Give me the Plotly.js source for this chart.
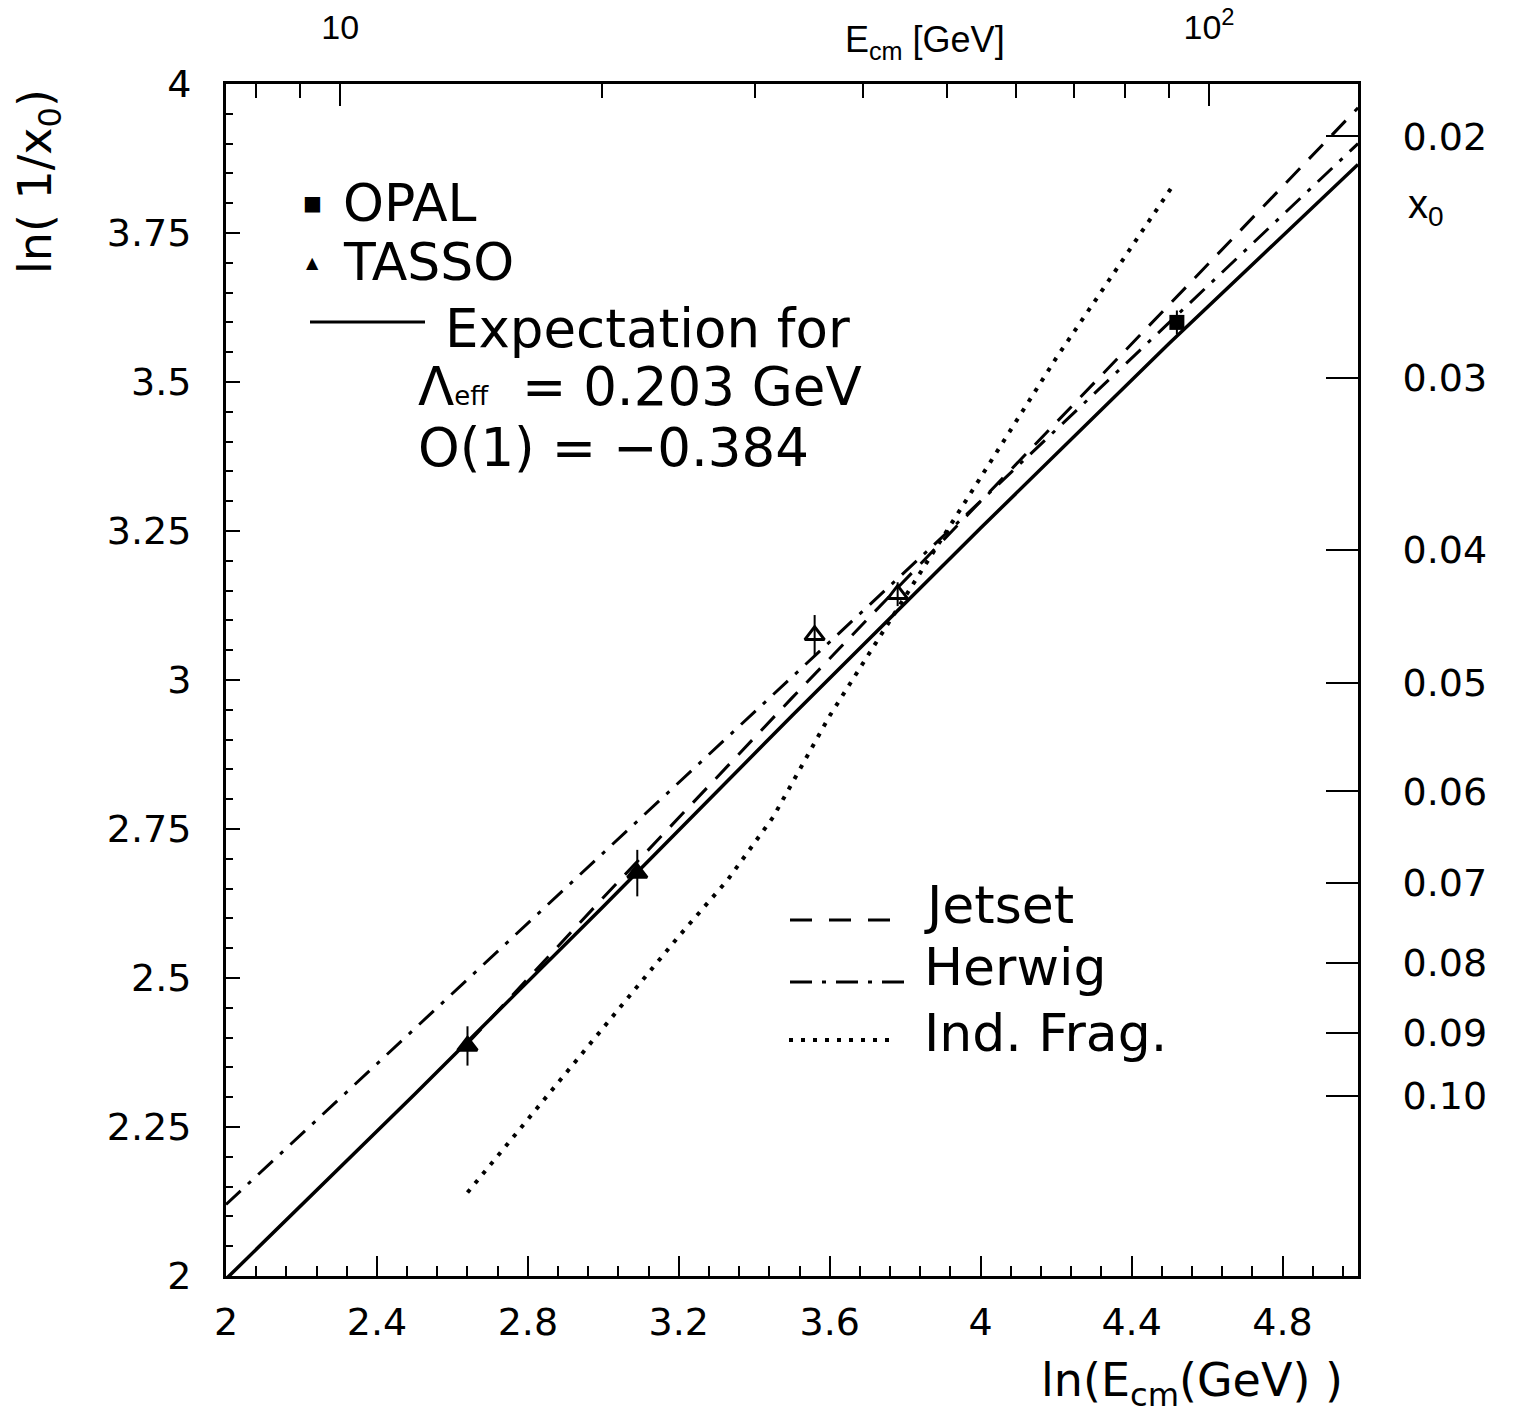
<!DOCTYPE html>
<html>
<head>
<meta charset="utf-8">
<script src="https://cdn.plot.ly/plotly-3.0.1.min.js"></script>
<style>html,body{margin:0;padding:0;background:#fff;}</style>
</head>
<body>
<div id="chart" style="width:1527px;height:1414px;"></div>
<script>
// ---- data ----
// TASSO points: ln(Ecm) and ln(1/x0)
const tassoX = [2.64, 3.09, 3.56, 3.78];
const tassoY = [2.386, 2.676, 3.075, 3.144];
const tassoErr = [0.033, 0.039, 0.034, 0.02];
// OPAL point
const opalX = [4.52];
const opalY = [3.60];
const opalErr = [0.02];
// Expectation (solid)
const expX = [2.0, 2.5, 3.0, 3.5, 4.0, 4.5, 5.0];
const expY = [1.995, 2.305, 2.62, 2.94, 3.255, 3.565, 3.865];
// Jetset (dashed)
const jetX = [2.64, 3.0, 3.5, 4.0, 4.5, 5.0];
const jetY = [2.39, 2.635, 2.97, 3.30, 3.63, 3.96];
// Herwig (dash-dot)
const herX = [2.0, 2.5, 3.0, 3.5, 4.0, 4.5, 5.0];
const herY = [2.12, 2.415, 2.71, 3.005, 3.30, 3.60, 3.90];
// Independent fragmentation (dotted)
const indX = [2.64, 2.85, 3.05, 3.20, 3.33, 3.45, 3.60, 3.76, 3.90, 4.05, 4.20, 4.35, 4.51];
const indY = [2.14, 2.30, 2.455, 2.57, 2.665, 2.77, 2.94, 3.10, 3.24, 3.39, 3.54, 3.68, 3.83];
// top axis (Ecm in GeV)
const topMajorE = [10, 100];
const topMajorText = ['10', '10<sup>2</sup>'];
const topMinorE = [8, 9, 20, 30, 40, 50, 60, 70, 80, 90];
// right axis (x0)
const x0Vals = [0.02, 0.03, 0.04, 0.05, 0.06, 0.07, 0.08, 0.09, 0.10];
const x0Text = ['0.02', '0.03', '0.04', '0.05', '0.06', '0.07', '0.08', '0.09', '0.10'];

// ---- layout geometry ----
const W = 1527, H = 1414;
const L = 226, R = 1358, T = 84, B = 1276;
const px = v => (v - L) / (R - L);
const py = v => (B - v) / (B - T);
const FONT = 'DejaVu Sans, Liberation Sans, sans-serif';

const traces = [
  {x: expX, y: expY, mode: 'lines', line: {color: '#000', width: 3.5}, hoverinfo: 'skip'},
  {x: jetX, y: jetY, mode: 'lines', line: {color: '#000', width: 3, dash: '20px,13px'}, hoverinfo: 'skip'},
  {x: herX, y: herY, mode: 'lines', line: {color: '#000', width: 3, dash: '20px,10px,4px,10px'}, hoverinfo: 'skip'},
  {x: indX, y: indY, mode: 'lines', line: {color: '#000', width: 4, dash: '4px,8px'}, hoverinfo: 'skip'},
  {x: tassoX, y: tassoY, mode: 'markers',
   marker: {symbol: ['triangle-up', 'triangle-up', 'triangle-up-open', 'triangle-up-open'], size: 17, color: '#000', line: {color: '#000', width: 3}},
   error_y: {type: 'data', array: tassoErr, visible: true, thickness: 2, width: 0, color: '#000'}},
  {x: opalX, y: opalY, mode: 'markers',
   marker: {symbol: 'square', size: 15, color: '#000'},
   error_y: {type: 'data', array: opalErr, visible: true, thickness: 2, width: 0, color: '#000'}}
];

const ann = [];
function addText(text, x, y, size, anchor, opts) {
  ann.push(Object.assign({text: text, xref: 'paper', yref: 'paper', x: px(x), y: py(y),
    xanchor: anchor || 'left', yanchor: 'middle', showarrow: false,
    font: {family: FONT, size: size, color: '#000'}}, opts || {}));
}
// upper-left legend
addText('■', 312, 203, 20, 'center');
addText('OPAL', 341, 203, 52);
addText('▲', 312, 262, 16, 'center');
addText('TASSO', 341, 262, 52);
addText('Expectation for', 443, 328, 53);
addText('Λ<span style="font-size:26px">eff</span>  = 0.203 GeV', 416, 387, 53);
addText('O(1) = −0.384', 416, 447, 53);
// lower-right legend
addText('Jetset', 922, 905, 52);
addText('Herwig', 922, 967, 52);
addText('Ind. Frag.', 922, 1033, 52);
// axis titles
addText('ln(E<sub>cm</sub>(GeV) )', 1345, 1383, 46, 'right');
addText('ln( 1/x<sub>0</sub>)', 38, 182, 46, 'center', {textangle: -90});
addText('E<sub>cm</sub> [GeV]', 925, 42, 36, 'center', {font: {family: 'Liberation Sans, sans-serif', size: 36, color: '#000'}});
addText('x<sub>0</sub>', 1426, 207, 40, 'center', {font: {family: 'Liberation Sans, sans-serif', size: 40, color: '#000'}});

const shapes = [
  {type: 'line', xref: 'paper', yref: 'paper', x0: px(310), x1: px(425), y0: py(322), y1: py(322), line: {color: '#000', width: 3}},
  {type: 'line', xref: 'paper', yref: 'paper', x0: px(790), x1: px(892), y0: py(920), y1: py(920), line: {color: '#000', width: 3, dash: '22px,17px'}},
  {type: 'line', xref: 'paper', yref: 'paper', x0: px(790), x1: px(907), y0: py(982), y1: py(982), line: {color: '#000', width: 3, dash: '22px,10px,4px,10px'}},
  {type: 'line', xref: 'paper', yref: 'paper', x0: px(789), x1: px(896), y0: py(1040), y1: py(1040), line: {color: '#000', width: 4, dash: '4px,8px'}}
];

const tickFont = {family: FONT, size: 38, color: '#000'};
const layout = {
  width: W, height: H,
  margin: {l: L, r: W - R, t: T, b: H - B, pad: 0},
  paper_bgcolor: '#fff', plot_bgcolor: '#fff',
  showlegend: false,
  xaxis: {range: [2, 5], showgrid: false, zeroline: false, showline: true, linecolor: '#000', linewidth: 3,
    tickmode: 'linear', tick0: 2, dtick: 0.4, ticks: 'inside', ticklen: 20, tickwidth: 2, tickcolor: '#000',
    minor: {tick0: 2, dtick: 0.08, ticks: 'inside', ticklen: 10, tickwidth: 2, tickcolor: '#000', showgrid: false},
    tickfont: tickFont, ticklabelstandoff: 10, automargin: false, fixedrange: true},
  xaxis2: {range: [2, 5], overlaying: 'x', side: 'top', showgrid: false, zeroline: false, showline: true, linecolor: '#000', linewidth: 3,
    tickmode: 'array', tickvals: topMajorE.map(e => Math.log(e)), ticktext: topMajorText,
    ticks: 'inside', ticklen: 22, tickwidth: 2, tickcolor: '#000',
    minor: {tickmode: 'array', tickvals: topMinorE.map(e => Math.log(e)), ticks: 'inside', ticklen: 14, tickwidth: 2, tickcolor: '#000', showgrid: false},
    tickfont: {family: 'Liberation Sans, sans-serif', size: 34, color: '#000'}, ticklabelstandoff: 28, automargin: false, fixedrange: true},
  yaxis: {range: [2, 4], showgrid: false, zeroline: false, showline: true, linecolor: '#000', linewidth: 3,
    tickmode: 'linear', tick0: 2, dtick: 0.25, ticks: 'inside', ticklen: 14, tickwidth: 2, tickcolor: '#000',
    minor: {tick0: 2, dtick: 0.05, ticks: 'inside', ticklen: 7, tickwidth: 2, tickcolor: '#000', showgrid: false},
    tickfont: tickFont, ticklabelstandoff: 24, automargin: false, fixedrange: true},
  yaxis2: {range: [2, 4], overlaying: 'y', side: 'right', showgrid: false, zeroline: false, showline: true, linecolor: '#000', linewidth: 3,
    tickmode: 'array', tickvals: x0Vals.map(v => Math.log(1 / v)), ticktext: x0Text,
    ticks: 'inside', ticklen: 32, tickwidth: 2, tickcolor: '#000',
    tickfont: tickFont, ticklabelstandoff: 34, automargin: false, fixedrange: true},
  annotations: ann,
  shapes: shapes
};

// invisible trace to activate the secondary axes
traces.push({x: [2], y: [2], xaxis: 'x2', yaxis: 'y2', mode: 'markers', marker: {opacity: 0}, hoverinfo: 'skip'});

Plotly.newPlot('chart', traces, layout, {staticPlot: true, displayModeBar: false});
</script>
</body>
</html>
